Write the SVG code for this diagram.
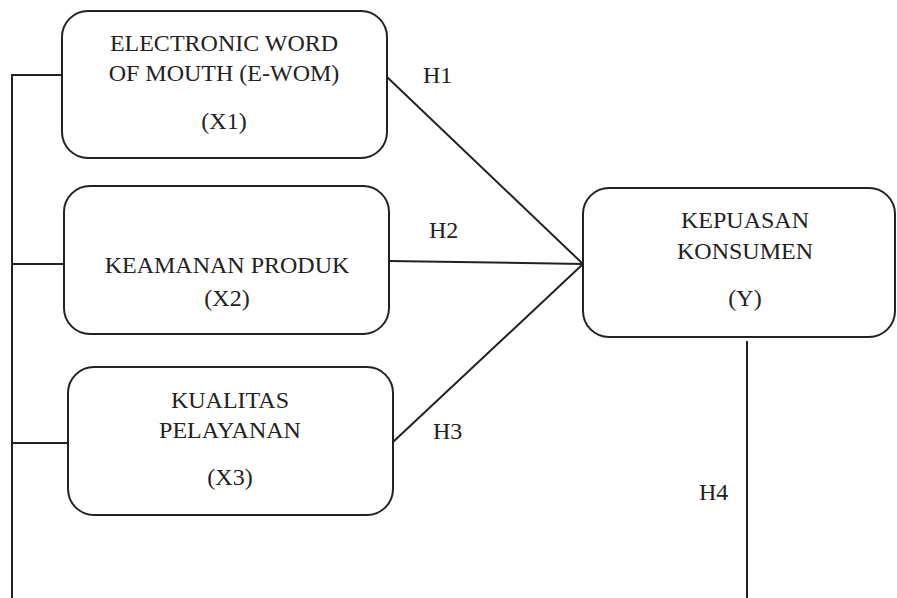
<svg xmlns="http://www.w3.org/2000/svg" width="897" height="598" viewBox="0 0 897 598" font-family="Liberation Serif, DejaVu Serif, serif" font-size="24">
<style>
.box{fill:#fff;stroke:#222;stroke-width:2}
.ln{stroke:#222;stroke-width:2;fill:none}
.t{fill:#222}
.c{text-anchor:middle}
</style>
<rect width="897" height="598" fill="#fff"/>
<g id="connectors">
<polyline class="ln" points="62,75 12,75 12,598"/>
<line class="ln" x1="12" y1="264" x2="64" y2="264"/>
<line class="ln" x1="12" y1="443" x2="68" y2="443"/>
<line class="ln" x1="387" y1="77" x2="583" y2="264"/>
<line class="ln" x1="389" y1="261" x2="583" y2="264"/>
<line class="ln" x1="393" y1="442" x2="583" y2="264"/>
<line class="ln" x1="747" y1="341" x2="747" y2="598"/>
<text class="t" font-family="Liberation Serif, serif" x="423" y="83">H1</text>
<text class="t" font-family="Liberation Serif, serif" x="429" y="238">H2</text>
<text class="t" font-family="Liberation Serif, serif" x="433" y="439">H3</text>
<text class="t" font-family="Liberation Serif, serif" x="699" y="500">H4</text>
</g>
<g id="x1" font-family="Liberation Serif, serif">
<rect class="box" x="62" y="11" width="325" height="147" rx="26"/>
<text class="t c" x="224" y="51">ELECTRONIC WORD</text>
<text class="t c" x="224" y="81">OF MOUTH (E-WOM)</text>
<text class="t c" x="224" y="129">(X1)</text>
</g>
<g id="x2" font-family="Liberation Serif, serif">
<rect class="box" x="64" y="186" width="325" height="148" rx="26"/>
<text class="t c" x="227" y="273">KEAMANAN PRODUK</text>
<text class="t c" x="227" y="306">(X2)</text>
</g>
<g id="x3" font-family="Liberation Serif, serif">
<rect class="box" x="68" y="367" width="325" height="148" rx="26"/>
<text class="t c" x="230" y="408">KUALITAS</text>
<text class="t c" x="230" y="438">PELAYANAN</text>
<text class="t c" x="230" y="485">(X3)</text>
</g>
<g id="y" font-family="Liberation Serif, serif">
<rect class="box" x="583" y="188" width="312" height="149" rx="26"/>
<text class="t c" x="745" y="228">KEPUASAN</text>
<text class="t c" x="745" y="259">KONSUMEN</text>
<text class="t c" x="745" y="306">(Y)</text>
</g>
</svg>
